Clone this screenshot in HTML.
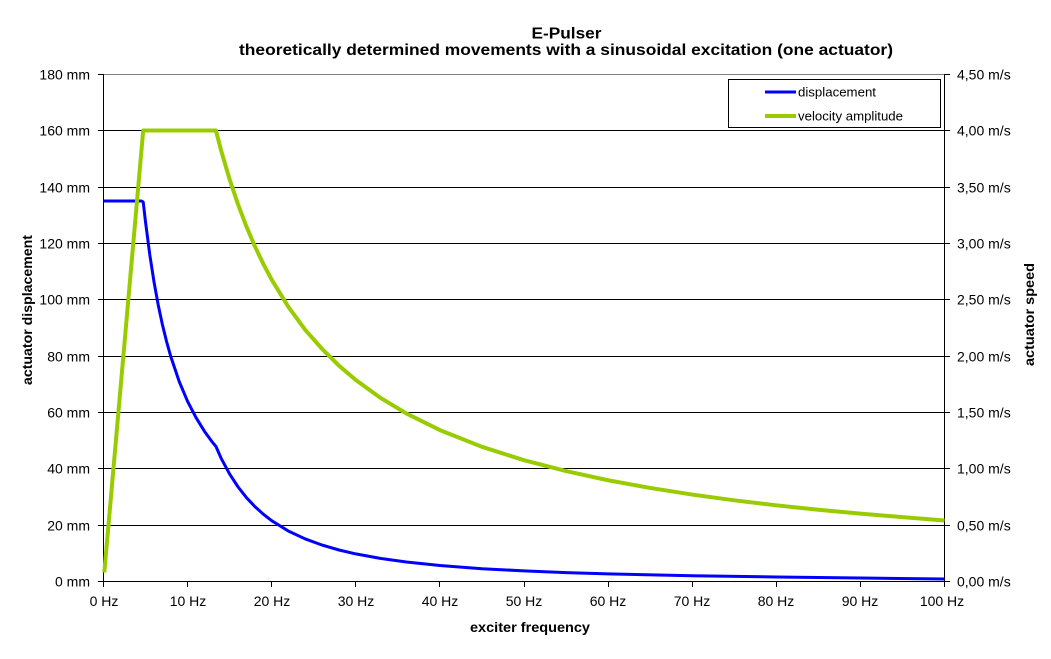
<!DOCTYPE html>
<html>
<head>
<meta charset="utf-8">
<style>
  html, body { margin: 0; padding: 0; background: #ffffff; }
  svg { display: block; }
  text { font-family: "Liberation Sans", Arial, sans-serif; fill: #000; }
  .tick { font-size: 14px; }
  .bold { font-weight: bold; }
</style>
</head>
<body>
<svg width="1051" height="659" viewBox="0 0 1051 659" xmlns="http://www.w3.org/2000/svg">
  <rect x="0" y="0" width="1051" height="659" fill="#ffffff"/>

  <!-- Title -->
  <text x="566.5" y="38.5" class="bold" font-size="16" text-anchor="middle" textLength="70" lengthAdjust="spacingAndGlyphs">E-Pulser</text>
  <text x="566" y="55" class="bold" font-size="16" text-anchor="middle" textLength="654" lengthAdjust="spacingAndGlyphs">theoretically determined movements with a sinusoidal excitation (one actuator)</text>

  <!-- Plot area top border (gray) -->
  <line x1="103.5" y1="74.5" x2="944.5" y2="74.5" stroke="#808080" stroke-width="1"/>

  <!-- Gridlines -->
  <g stroke="#000" stroke-width="1">
    <line x1="103.5" y1="130.5" x2="944.5" y2="130.5"/>
    <line x1="103.5" y1="187.5" x2="944.5" y2="187.5"/>
    <line x1="103.5" y1="243.5" x2="944.5" y2="243.5"/>
    <line x1="103.5" y1="299.5" x2="944.5" y2="299.5"/>
    <line x1="103.5" y1="356.5" x2="944.5" y2="356.5"/>
    <line x1="103.5" y1="412.5" x2="944.5" y2="412.5"/>
    <line x1="103.5" y1="468.5" x2="944.5" y2="468.5"/>
    <line x1="103.5" y1="525.5" x2="944.5" y2="525.5"/>
    <line x1="103.5" y1="581.5" x2="944.5" y2="581.5"/>
    <!-- axes -->
    <line x1="103.5" y1="74" x2="103.5" y2="582"/>
    <line x1="944.5" y1="74" x2="944.5" y2="582"/>
    <!-- left ticks -->
    <line x1="98" y1="74.5" x2="103.5" y2="74.5"/>
    <line x1="98" y1="130.5" x2="103.5" y2="130.5"/>
    <line x1="98" y1="187.5" x2="103.5" y2="187.5"/>
    <line x1="98" y1="243.5" x2="103.5" y2="243.5"/>
    <line x1="98" y1="299.5" x2="103.5" y2="299.5"/>
    <line x1="98" y1="356.5" x2="103.5" y2="356.5"/>
    <line x1="98" y1="412.5" x2="103.5" y2="412.5"/>
    <line x1="98" y1="468.5" x2="103.5" y2="468.5"/>
    <line x1="98" y1="525.5" x2="103.5" y2="525.5"/>
    <line x1="98" y1="581.5" x2="103.5" y2="581.5"/>
    <!-- right ticks -->
    <line x1="944.5" y1="74.5" x2="950" y2="74.5"/>
    <line x1="944.5" y1="130.5" x2="950" y2="130.5"/>
    <line x1="944.5" y1="187.5" x2="950" y2="187.5"/>
    <line x1="944.5" y1="243.5" x2="950" y2="243.5"/>
    <line x1="944.5" y1="299.5" x2="950" y2="299.5"/>
    <line x1="944.5" y1="356.5" x2="950" y2="356.5"/>
    <line x1="944.5" y1="412.5" x2="950" y2="412.5"/>
    <line x1="944.5" y1="468.5" x2="950" y2="468.5"/>
    <line x1="944.5" y1="525.5" x2="950" y2="525.5"/>
    <line x1="944.5" y1="581.5" x2="950" y2="581.5"/>
    <!-- bottom ticks -->
    <line x1="103.5" y1="581.5" x2="103.5" y2="587"/>
    <line x1="187.5" y1="581.5" x2="187.5" y2="587"/>
    <line x1="271.5" y1="581.5" x2="271.5" y2="587"/>
    <line x1="355.5" y1="581.5" x2="355.5" y2="587"/>
    <line x1="439.5" y1="581.5" x2="439.5" y2="587"/>
    <line x1="524.5" y1="581.5" x2="524.5" y2="587"/>
    <line x1="608.5" y1="581.5" x2="608.5" y2="587"/>
    <line x1="692.5" y1="581.5" x2="692.5" y2="587"/>
    <line x1="776.5" y1="581.5" x2="776.5" y2="587"/>
    <line x1="860.5" y1="581.5" x2="860.5" y2="587"/>
    <line x1="944.5" y1="581.5" x2="944.5" y2="587"/>
  </g>

  <!-- Left tick labels -->
  <g class="tick" text-anchor="end">
    <text x="90" y="79.5">180 mm</text>
    <text x="90" y="135.5">160 mm</text>
    <text x="90" y="192.5">140 mm</text>
    <text x="90" y="248.5">120 mm</text>
    <text x="90" y="304.5">100 mm</text>
    <text x="90" y="361.5">80 mm</text>
    <text x="90" y="417.5">60 mm</text>
    <text x="90" y="473.5">40 mm</text>
    <text x="90" y="530.5">20 mm</text>
    <text x="90" y="586.5">0 mm</text>
  </g>

  <!-- Right tick labels -->
  <g class="tick" text-anchor="start">
    <text x="957" y="79.5">4,50 m/s</text>
    <text x="957" y="135.5">4,00 m/s</text>
    <text x="957" y="192.5">3,50 m/s</text>
    <text x="957" y="248.5">3,00 m/s</text>
    <text x="957" y="304.5">2,50 m/s</text>
    <text x="957" y="361.5">2,00 m/s</text>
    <text x="957" y="417.5">1,50 m/s</text>
    <text x="957" y="473.5">1,00 m/s</text>
    <text x="957" y="530.5">0,50 m/s</text>
    <text x="957" y="586.5">0,00 m/s</text>
  </g>

  <!-- Bottom tick labels -->
  <g class="tick" text-anchor="middle">
    <text x="104" y="606">0 Hz</text>
    <text x="188" y="606">10 Hz</text>
    <text x="272" y="606">20 Hz</text>
    <text x="356" y="606">30 Hz</text>
    <text x="440" y="606">40 Hz</text>
    <text x="524" y="606">50 Hz</text>
    <text x="608" y="606">60 Hz</text>
    <text x="692" y="606">70 Hz</text>
    <text x="776" y="606">80 Hz</text>
    <text x="860" y="606">90 Hz</text>
    <text x="942" y="606">100 Hz</text>
  </g>

  <!-- Axis titles -->
  <text x="530" y="632" class="bold" font-size="14" text-anchor="middle" textLength="120" lengthAdjust="spacingAndGlyphs">exciter frequency</text>
  <text transform="translate(32,310) rotate(-90)" class="bold" font-size="14" text-anchor="middle" textLength="150" lengthAdjust="spacingAndGlyphs">actuator displacement</text>
  <text transform="translate(1034,314.5) rotate(-90)" class="bold" font-size="14" text-anchor="middle" textLength="103" lengthAdjust="spacingAndGlyphs">actuator speed</text>

  <!-- Displacement series (blue) -->
  <polyline fill="none" stroke="#0000FF" stroke-width="3" stroke-linejoin="round" stroke-linecap="butt"
    points="103.5,201 141.5,201 143.2,202 145.55,222.2 149.8,254.8 154,281.9 158.2,304.9 162.4,324.6 166.6,341.6 170.8,356.6 179.2,381.5 187.6,401.4 196,417.6 204.4,431.2 212.8,442.7 215.9,446.4 221.2,458.4 229.65,474.1 238.1,487 246.5,497.7 254.9,506.6 263.3,514.2 271.7,520.7 288.5,531.1 305.3,538.95 322.2,545.1 339,550 355.8,553.9 381,558.5 406.3,562 439.9,565.5 482,568.7 524,570.9 566.05,572.6 608.1,573.85 692.2,575.8 776.3,577 860.4,578 944.5,579"/>

  <!-- Velocity series (green) -->
  <polyline fill="none" stroke="#99CC00" stroke-width="4" stroke-linejoin="round" stroke-linecap="butt"
    points="104.3,572.5 143.2,130.5 215.9,130.5 221.2,150.8 229.65,179.5 238.1,204.55 246.5,226.7 254.9,246.3 263.3,263.9 271.7,279.7 288.5,307.1 305.3,329.9 322.2,349.1 339,365.7 355.8,380 381,398.2 406.3,413.4 439.9,430.1 482,446.8 524,460.2 566.05,471.1 608.1,480.25 650.2,487.96 692.2,494.57 734.25,500.3 776.3,505.31 818.35,509.73 860.4,513.66 902.45,517.18 944.5,520.5"/>

  <!-- Legend -->
  <rect x="728.5" y="79.5" width="212" height="48" fill="#ffffff" stroke="#000" stroke-width="1"/>
  <line x1="765" y1="92" x2="796" y2="92" stroke="#0000FF" stroke-width="3"/>
  <line x1="765" y1="116" x2="796" y2="116" stroke="#99CC00" stroke-width="4"/>
  <text x="798" y="96.5" font-size="13" textLength="78" lengthAdjust="spacingAndGlyphs">displacement</text>
  <text x="798" y="120.5" font-size="13" textLength="105" lengthAdjust="spacingAndGlyphs">velocity amplitude</text>
</svg>
</body>
</html>
